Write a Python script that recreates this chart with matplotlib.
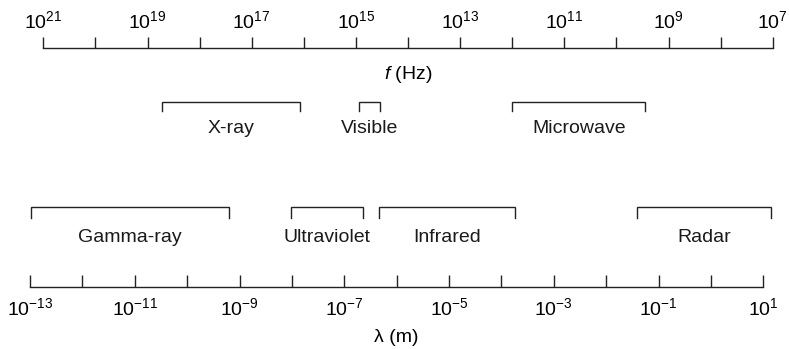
import matplotlib.pyplot as plt

plt.rcParams['font.family'] = ['Liberation Sans', 'DejaVu Sans']
plt.rcParams['mathtext.fontset'] = 'custom'
plt.rcParams['mathtext.rm'] = 'Liberation Sans'
plt.rcParams['mathtext.it'] = 'Liberation Sans:italic'
plt.rcParams['mathtext.sf'] = 'Liberation Sans'

# decades on each scale
freq_exps = list(range(21, 6, -1))   # f (Hz), 10^21 .. 10^7
wave_exps = list(range(-13, 2))      # lambda (m), 10^-13 .. 10^1

# bands drawn above, read against the frequency scale (Hz)
top_bands = ['X-ray', 'Visible', 'Microwave']
top_start_hz = [5.2e18, 8.7e14, 1.0e12]
top_end_hz = [1.2e16, 3.5e14, 2.8e9]

# bands drawn below, read against the wavelength scale (m)
low_bands = ['Gamma-ray', 'Ultraviolet', 'Infrared', 'Radar']
low_start_m = [1.05e-13, 9.5e-9, 4.7e-7, 3.9e-2]
low_end_m = [6.3e-10, 2.3e-7, 1.8e-4, 14.0]

W, H = 789, 349
LC = '#222222'
fig = plt.figure(figsize=(W / 100, H / 100), dpi=100)


def px_axes(x0, x1, y0, y1):
    # axes placed in pixel units of the figure, y counted from the top
    return fig.add_axes([x0 / W, 1 - y1 / H, (x1 - x0) / W, (y1 - y0) / H])


def bracket(ax, a, b, label, ytop=0.0, ydrop=9.5, ytext=27.0):
    ax.plot([a, a, b, b], [ytop + ydrop, ytop, ytop, ytop + ydrop],
            color=LC, lw=1.0, clip_on=False, solid_joinstyle='miter')
    mid = (a * b) ** 0.5
    ax.text(mid, ytop + ytext, label, ha='center', va='center',
            fontsize=14, color='#1a1a1a', clip_on=False)


# ---- frequency scale (top) ----
ax_f = px_axes(43.3, 772.7, 48.3, 160)
ax_f.set_xscale('log')
ax_f.set_xlim(10.0 ** freq_exps[0], 10.0 ** freq_exps[-1])
ax_f.set_ylim(160 - 48.3, 0)
for s in ['left', 'right', 'bottom']:
    ax_f.spines[s].set_visible(False)
ax_f.spines['top'].set_color(LC)
ax_f.spines['top'].set_linewidth(1.0)
ax_f.xaxis.set_ticks_position('top')
ax_f.set_xticks([10.0 ** e for e in freq_exps])
ax_f.set_xticklabels([f'$10^{{{e}}}$' if e % 2 else '' for e in freq_exps])
ax_f.xaxis.set_minor_locator(plt.NullLocator())
ax_f.tick_params(axis='x', direction='out', length=8, width=1.0, color=LC,
                 labelsize=14, pad=3.5)
ax_f.set_yticks([])
ax_f.patch.set_visible(False)
ax_f.text(10.0 ** 14, 26.5, '$f$ (Hz)', ha='center', va='center', fontsize=14)

for name, a, b in zip(top_bands, top_start_hz, top_end_hz):
    bracket(ax_f, a, b, name, ytop=53.4, ydrop=9.5, ytext=27)

# ---- wavelength scale (bottom) ----
ax_l = px_axes(30, 763.3, 190, 286.7)
ax_l.set_xscale('log')
ax_l.set_xlim(10.0 ** wave_exps[0], 10.0 ** wave_exps[-1])
ax_l.set_ylim(286.7 - 190, 0)
for s in ['left', 'right', 'top']:
    ax_l.spines[s].set_visible(False)
ax_l.spines['bottom'].set_color(LC)
ax_l.spines['bottom'].set_linewidth(1.0)
ax_l.set_xticks([10.0 ** e for e in wave_exps])
ax_l.set_xticklabels([f'$10^{{{e}}}$' if e % 2 else '' for e in wave_exps])
ax_l.xaxis.set_minor_locator(plt.NullLocator())
ax_l.tick_params(axis='x', direction='in', length=8.5, width=1.0, color=LC,
                 labelsize=14, pad=7.5)
ax_l.set_yticks([])
ax_l.patch.set_visible(False)
ax_l.text(10.0 ** -6.0, 338 - 190, 'λ (m)', ha='center',
          va='center', fontsize=14, clip_on=False)

for name, a, b in zip(low_bands, low_start_m, low_end_m):
    bracket(ax_l, a, b, name, ytop=16.7, ydrop=11.5, ytext=31)

fig.savefig('out.png', dpi=100)
